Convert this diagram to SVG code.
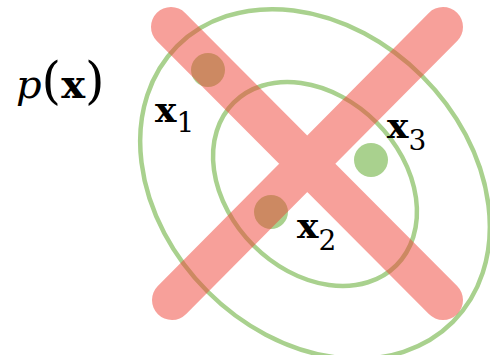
<svg xmlns="http://www.w3.org/2000/svg" width="490" height="355" viewBox="0 0 490 355">
<style>
.ell{fill:none;stroke:#a9d18e;stroke-width:4.5}
.dot{fill:#a9d18e}
.lbl{font-family:"DejaVu Serif","Liberation Serif",serif;fill:#000}
.bx{font-weight:bold;font-size:36px}
.sub{font-size:28px}
</style>
<rect width="490" height="355" fill="#fff"/>
<g id="outer-ellipse"><ellipse class="ell" cx="315" cy="184" rx="195" ry="152" transform="rotate(45 315 184)"/></g>
<g id="inner-ellipse"><ellipse class="ell" cx="315" cy="184" rx="115" ry="87" transform="rotate(45 315 184)"/></g>
<g id="x1"><circle class="dot" cx="208" cy="70" r="17"/><text class="lbl" y="122"><tspan class="bx" x="155">x</tspan><tspan class="sub" dy="10">1</tspan></text></g>
<g id="x2"><circle class="dot" cx="271" cy="212" r="17"/><text class="lbl" y="238"><tspan class="bx" x="297">x</tspan><tspan class="sub" dy="12">2</tspan></text></g>
<g id="x3"><circle class="dot" cx="371" cy="160" r="17"/><text class="lbl" y="138"><tspan class="bx" x="387">x</tspan><tspan class="sub" dy="12">3</tspan></text></g>
<g id="cross"><path d="M171 27 L443 300 M443 27 L172 300" fill="none" stroke="#ef4136" stroke-opacity="0.5" stroke-width="40" stroke-linecap="round"/></g>
<g id="px"><text class="lbl" y="98" font-size="40"><tspan x="16" font-style="italic">p</tspan><tspan font-size="50">(</tspan><tspan font-weight="bold">x</tspan><tspan font-size="50">)</tspan></text></g>
</svg>
